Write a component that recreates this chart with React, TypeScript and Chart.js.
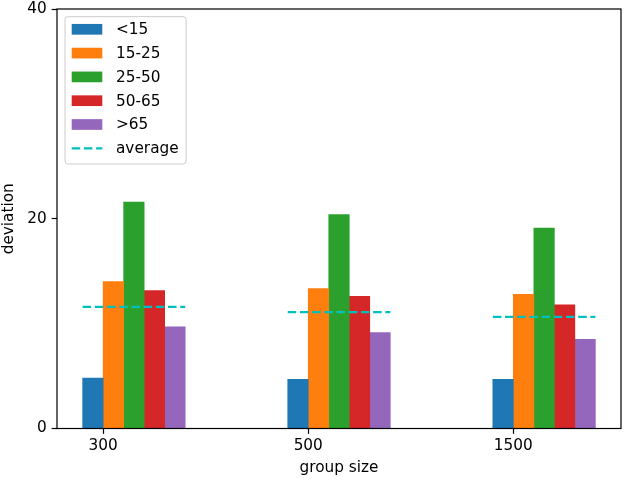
import React, { useEffect, useRef } from "react";
import { Chart, registerables } from "chart.js";

Chart.register(...registerables);

// ---- data ----
const categories = ["300", "500", "1500"];
const seriesLabels = ["<15", "15-25", "25-50", "50-65", ">65"];
const under15 = [4.8, 4.7, 4.7];
const age15to25 = [14.0, 13.35, 12.8];
const age25to50 = [21.6, 20.4, 19.1];
const age50to65 = [13.15, 12.6, 11.8];
const over65 = [9.7, 9.15, 8.5];
const averages = [11.6, 11.1, 10.65];
const averageLabel = "average";
const yTicks = [0, 20, 40];

const colors = ["#1f77b4", "#ff7f0e", "#2ca02c", "#d62728", "#9467bd"];
const avgColor = "#00bfbf";
const FONT = "'DejaVu Sans', sans-serif";
const FS = 15.3;
const BAR_W = 0.1;
const AVG_DASH = [8.5, 3.7];

const framePlugin = {
  id: "frame",
  afterDraw(chart: any) {
    const { ctx, chartArea } = chart;
    const { left, top, right, bottom } = chartArea;
    ctx.save();
    ctx.strokeStyle = "#000";
    ctx.lineWidth = 1.2;
    ctx.strokeRect(left, top, right - left, bottom - top);
    ctx.restore();
  },
};

const legendPlugin = {
  id: "mplLegend",
  afterDraw(chart: any) {
    const { ctx, chartArea } = chart;
    const items = chart.data.datasets
      .filter((d: any) => !d.hideInLegend)
      .map((d: any) => ({
        label: d.label,
        type: d.type,
        color: d.type === "line" ? d.borderColor : d.backgroundColor,
      }));
    ctx.save();
    ctx.font = `${FS}px ${FONT}`;
    const maxW = Math.max(...items.map((it: any) => ctx.measureText(it.label).width));
    const bx = chartArea.left + 8;
    const by = chartArea.top + 7.7;
    const rowH = 23.8;
    const firstRow = 12.6;
    const bw = 51 + maxW + 7.5;
    const bh = firstRow + (items.length - 1) * rowH + 15.7;
    const r = 3;
    ctx.beginPath();
    ctx.moveTo(bx + r, by);
    ctx.lineTo(bx + bw - r, by);
    ctx.arcTo(bx + bw, by, bx + bw, by + r, r);
    ctx.lineTo(bx + bw, by + bh - r);
    ctx.arcTo(bx + bw, by + bh, bx + bw - r, by + bh, r);
    ctx.lineTo(bx + r, by + bh);
    ctx.arcTo(bx, by + bh, bx, by + bh - r, r);
    ctx.lineTo(bx, by + r);
    ctx.arcTo(bx, by, bx + r, by, r);
    ctx.closePath();
    ctx.fillStyle = "rgba(255,255,255,0.8)";
    ctx.fill();
    ctx.strokeStyle = "#cccccc";
    ctx.lineWidth = 1;
    ctx.stroke();
    items.forEach((it: any, i: number) => {
      const cy = by + firstRow + i * rowH;
      const hx = bx + 6.7;
      const hw = 30.6;
      if (it.type === "line") {
        ctx.strokeStyle = it.color;
        ctx.lineWidth = 2.3;
        ctx.setLineDash(AVG_DASH);
        ctx.beginPath();
        ctx.moveTo(hx, cy);
        ctx.lineTo(hx + hw, cy);
        ctx.stroke();
        ctx.setLineDash([]);
      } else {
        ctx.fillStyle = it.color;
        ctx.fillRect(hx, cy - 5.35, hw, 10.7);
      }
      ctx.fillStyle = "#000";
      ctx.textBaseline = "middle";
      ctx.textAlign = "left";
      ctx.fillText(it.label, bx + 51, cy + 1);
    });
    ctx.restore();
  },
};

export default function App() {
  const ref = useRef<HTMLCanvasElement>(null);
  useEffect(() => {
    if (!ref.current) return;
    const series = [under15, age15to25, age25to50, age50to65, over65];
    const datasets: any[] = series.map((vals, i) => ({
      type: "bar",
      label: seriesLabels[i],
      data: vals.map((v, j) => ({ x: j + (i - 0.5) * BAR_W, y: v })),
      backgroundColor: colors[i],
      borderWidth: 0,
      grouped: false,
      barPercentage: 1,
      categoryPercentage: 1,
      order: 2,
    }));
    const avgData: any[] = [];
    averages.forEach((a, j) => {
      avgData.push({ x: j - BAR_W, y: a });
      avgData.push({ x: j + 4 * BAR_W, y: a });
      avgData.push({ x: j + 4.5 * BAR_W, y: null });
    });
    datasets.push({
      type: "line",
      label: averageLabel,
      data: avgData,
      borderColor: avgColor,
      backgroundColor: avgColor,
      borderWidth: 2.3,
      borderDash: AVG_DASH,
      pointRadius: 0,
      spanGaps: false,
      fill: false,
      order: 1,
    });

    Chart.defaults.color = "#000";
    Chart.defaults.font.family = FONT;
    Chart.defaults.font.size = FS;

    const chart = new Chart(ref.current, {
      type: "bar",
      data: { datasets },
      options: {
        animation: false,
        responsive: false,
        events: [],
        layout: { padding: { top: 9, right: 4, left: 0, bottom: 0 } },
        plugins: {
          legend: { display: false },
          tooltip: { enabled: false },
        },
        scales: {
          x: {
            type: "linear",
            min: -0.225,
            max: 2.525,
            offset: false,
            border: { display: false },
            grid: {
              offset: false,
              drawOnChartArea: false,
              drawTicks: true,
              tickLength: 5.35,
              tickColor: "#000",
              tickWidth: 1.2,
              color: "#000",
            },
            ticks: {
              padding: 3,
              color: "#000",
              font: { family: FONT, size: FS },
              maxRotation: 0,
              autoSkip: false,
              callback: (v: any) => categories[v as number] ?? "",
            },
            afterBuildTicks: (scale: any) => {
              scale.ticks = categories.map((_, i) => ({ value: i }));
            },
            afterFit: (scale: any) => {
              scale.height = 52.5;
              scale.paddingLeft = 0;
              scale.paddingRight = 0;
            },
            title: {
              display: true,
              text: "group size",
              color: "#000",
              font: { family: FONT, size: FS },
              padding: { top: 0, bottom: 3.5 },
            },
          },
          y: {
            type: "linear",
            min: 0,
            max: 40,
            border: { display: false },
            grid: {
              drawOnChartArea: false,
              drawTicks: true,
              tickLength: 5.35,
              tickColor: "#000",
              tickWidth: 1.2,
              color: "#000",
            },
            ticks: {
              padding: 5,
              color: "#000",
              font: { family: FONT, size: FS },
              callback: (v: any) => String(v),
            },
            afterBuildTicks: (scale: any) => {
              scale.ticks = yTicks.map((v) => ({ value: v }));
            },
            afterFit: (scale: any) => {
              scale.width = 57;
              scale.paddingTop = 0;
              scale.paddingBottom = 0;
            },
            title: {
              display: true,
              text: "deviation",
              color: "#000",
              font: { family: FONT, size: FS },
              padding: { top: 0, bottom: 0 },
            },
          },
        },
      },
      plugins: [framePlugin, legendPlugin],
    } as any);
    return () => chart.destroy();
  }, []);

  return (
    <div style={{ position: "fixed", left: 0, top: 0, width: 625, height: 481, background: "#fff" }}>
      <canvas ref={ref} width={625} height={481} style={{ width: 625, height: 481, display: "block" }} />
    </div>
  );
}
